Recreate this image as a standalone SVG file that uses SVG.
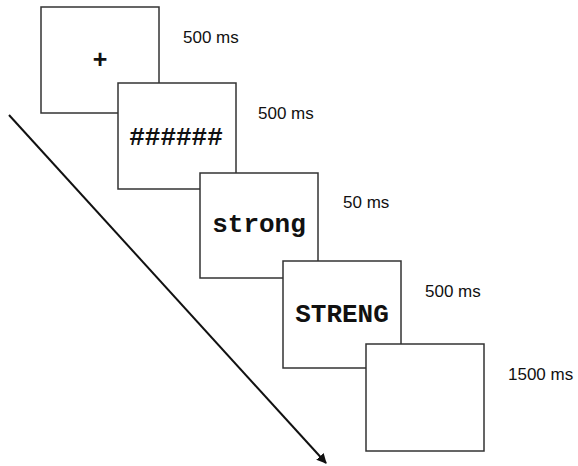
<svg xmlns="http://www.w3.org/2000/svg" width="578" height="466" viewBox="0 0 578 466">
<style>
.box{fill:#fff;stroke:#333;stroke-width:1.5}
.stim{font-family:"Liberation Mono","Courier New",monospace;font-weight:bold;font-size:26px;fill:#111;text-anchor:middle}
.lbl{font-family:"Liberation Sans",Arial,sans-serif;font-size:17px;fill:#111}
</style>
<defs>
<marker id="ah" viewBox="0 0 10 10" refX="9" refY="5" markerWidth="5" markerHeight="5" orient="auto" markerUnits="strokeWidth">
<path d="M0,0 L10,5 L0,10 z" fill="#111"/>
</marker>
</defs>
<rect width="578" height="466" fill="#fff"/>
<g id="connectors">
<line x1="9" y1="115" x2="326" y2="463" stroke="#111" stroke-width="2" marker-end="url(#ah)"/>
</g>
<g id="fixation">
<rect class="box" x="41" y="7" width="118" height="106"/>
<text x="100" y="68" font-family="Liberation Sans,Arial,sans-serif" font-weight="bold" font-size="25" text-anchor="middle" fill="#111">+</text>
<text class="lbl" x="183" y="43">500 ms</text>
</g>
<g id="mask">
<rect class="box" x="118" y="83" width="118" height="106"/>
<text class="stim" x="176" y="145" font-size="27">######</text>
<text class="lbl" x="258" y="119">500 ms</text>
</g>
<g id="prime">
<rect class="box" x="200" y="173" width="118" height="105"/>
<text class="stim" x="259" y="232">strong</text>
<text class="lbl" x="343" y="208">50 ms</text>
</g>
<g id="target">
<rect class="box" x="283" y="261" width="118" height="107"/>
<text class="stim" x="342" y="322">STRENG</text>
<text class="lbl" x="425" y="297">500 ms</text>
</g>
<g id="blank">
<rect class="box" x="366" y="344" width="118" height="107"/>
<text class="lbl" x="508" y="380">1500 ms</text>
</g>
</svg>
